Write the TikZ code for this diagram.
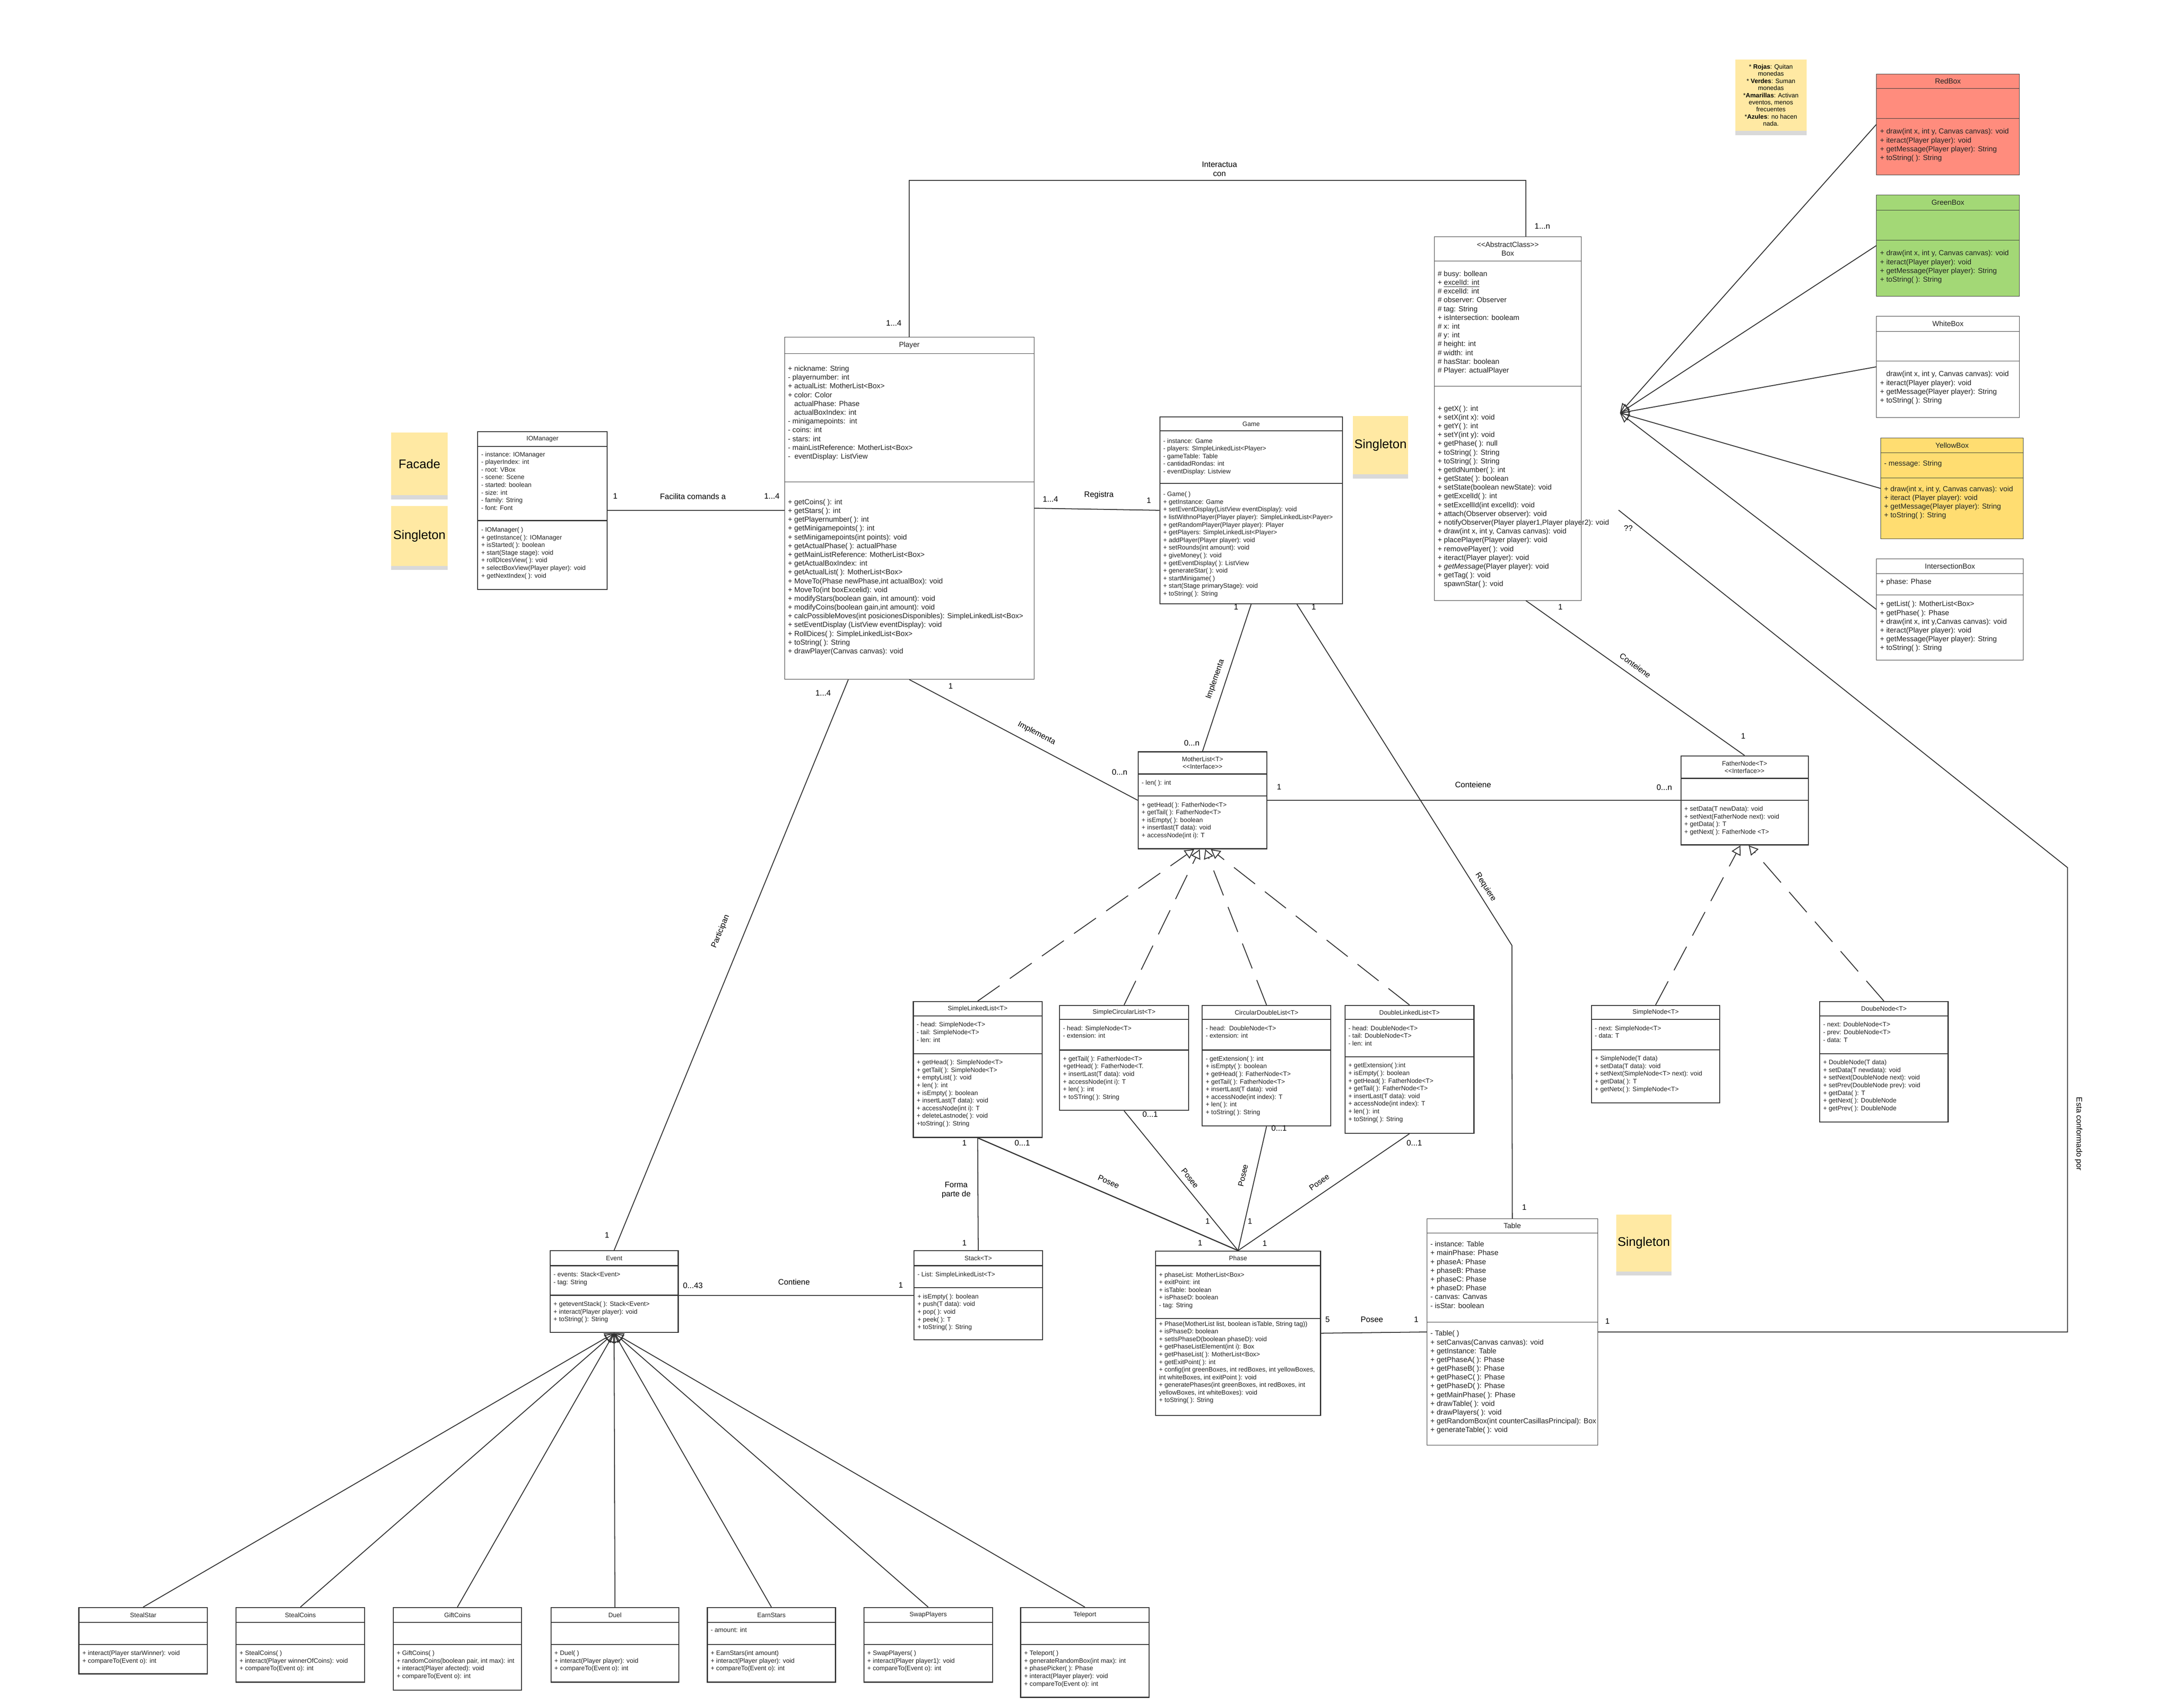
\documentclass[tikz,border=0pt]{standalone}
\usepackage{fontspec}
\setmainfont{Liberation Sans}
\usetikzlibrary{shapes.multipart, arrows.meta, shadows}
\newlength\un \setlength\un{0.3885mm}
\definecolor{liniaFosca}{RGB}{51,51,51}
\definecolor{textFosc}{RGB}{34,34,34}
\definecolor{vermellCaixa}{RGB}{255,140,125}
\definecolor{verdCaixa}{RGB}{163,216,118}
\definecolor{grocCaixa}{RGB}{255,221,113}
\definecolor{grocNota}{RGB}{255,233,163}
% capcalera i seccions de les classes
\newcommand{\titol}[3]{\parbox[c][#2\un][c]{#1\un}{\centering #3}}
\newcommand{\seccio}[4]{\parbox[c][#2\un][t]{#1\un}{\vspace*{#3\un}\begin{tabular}{@{\hspace{2.5\un}}l@{}}#4\end{tabular}}}
\newcommand{\llt}{<\kern0pt<}
\newcommand{\ggt}{>\kern0pt>}
\newcommand{\ind}{\phantom{+ }}
\tikzset{
  classe/.style={rectangle split, rectangle split parts=3, draw=liniaFosca, line width=0.35pt, inner sep=0pt, anchor=north west, text=textFosc, font=\fontsize{5.8}{7}\selectfont},
  classeGruixuda/.style={classe, line width=0.8pt, font=\fontsize{5.1}{6.1}\selectfont},
  notaGroga/.style={rectangle, fill=grocNota, inner sep=0pt, anchor=north west, align=center, drop shadow={shadow xshift=0pt, shadow yshift=-1.2mm, opacity=.3}},
  etiqueta/.style={inner sep=0pt, align=center, text=black, font=\fontsize{6.3}{7.3}\selectfont},
  conn/.style={draw=liniaFosca, line width=0.7pt},
  herencia/.style={conn, -{Triangle[open, length=2.6mm, width=2.8mm]}},
  realitza/.style={herencia, dash pattern=on 7.5mm off 3.5mm},
}
\begin{document}
\begin{tikzpicture}[x=\un, y=-\un]
\useasboundingbox (0,0) rectangle (1568.1,1232.2);

% Notes
\node (facade) [notaGroga, minimum width=41\un, minimum height=45\un, font=\fontsize{10}{12}\selectfont] at (282,312) {Facade};
\node (singleton1) [notaGroga, minimum width=41\un, minimum height=43\un, font=\fontsize{10}{12}\selectfont] at (282,365) {Singleton};
\node (singleton2) [notaGroga, minimum width=40\un, minimum height=42\un, font=\fontsize{10}{12}\selectfont] at (976,300) {Singleton};
\node (singleton3) [notaGroga, minimum width=40\un, minimum height=41\un, font=\fontsize{10}{12}\selectfont] at (1166,876) {Singleton};
\node (colors) [notaGroga, minimum width=51.5\un, minimum height=51.5\un, font=\fontsize{5}{5.7}\selectfont] at (1252,42.7) {* \textbf{Rojas}: Quitan\\monedas\\* \textbf{Verdes}: Suman\\monedas\\*\textbf{Amarillas}: Activan\\eventos, menos\\frecuentes\\*\textbf{Azules}: no hacen\\nada.};

% Classes principals
\node (player) [classe] at (566,243) {\titol{180}{11.6}{Player}\nodepart{two}\seccio{180}{92.4}{8}{+ nickname: String\\- playernumber: int\\+ actualList: MotherList<Box>\\+ color: Color\\\ind actualPhase: Phase\\\ind actualBoxIndex: int\\- minigamepoints:\ \ int\\- coins: int\\- stars: int\\- mainListReference: MotherList<Box>\\-\ \ eventDisplay: ListView}\nodepart{three}\seccio{180}{142}{11.5}{+ getCoins( ): int\\+ getStars( ): int\\+ getPlayernumber( ): int\\+ getMinigamepoints( ): int\\+ setMinigamepoints(int points): void\\+ getActualPhase( ): actualPhase\\+ getMainListReference: MotherList<Box>\\+ getActualBoxIndex: int\\+ getActualList( ): MotherList<Box>\\+ MoveTo(Phase newPhase,int actualBox): void\\+ MoveTo(int boxExcelid): void\\+ modifyStars(boolean gain, int amount): void\\+ modifyCoins(boolean gain,int amount): void\\+ calcPossibleMoves(int posicionesDisponibles): SimpleLinkedList<Box>\\+ setEventDisplay (ListView eventDisplay): void\\+ RollDices( ): SimpleLinkedList<Box>\\+ toString( ): String\\+ drawPlayer(Canvas canvas): void}};

\node (iomanager) [classeGruixuda] at (344.4,311) {\titol{93.4}{10}{IOManager}\nodepart{two}\seccio{93.4}{52.7}{3}{- instance: IOManager\\- playerIndex: int\\- root: VBox\\- scene: Scene\\- started: boolean\\- size: int\\- family: String\\- font: Font}\nodepart{three}\seccio{93.4}{49}{4}{- IOManager( )\\+ getInstance( ): IOManager\\+ isStarted( ): boolean\\+ start(Stage stage): void\\+ rollDIcesView( ): void\\+ selectBoxView(Player player): void\\+ getNextIndex( ): void}};

\node (game) [classeGruixuda] at (836.6,300.4) {\titol{131.8}{9.3}{Game}\nodepart{two}\seccio{131.8}{37.3}{4.6}{- instance: Game\\- players: SImpleLinkedList<Player>\\- gameTable: Table\\- cantidadRondas: int\\- eventDisplay: Listview}\nodepart{three}\seccio{131.8}{86}{5}{- Game( )\\+ getInstance: Game\\+ setEventDisplay(ListView eventDisplay): void\\+ listWithnoPlayer(Player player): SimpleLinkedList<Payer>\\+ getRandomPlayer(Player player): Player\\+ getPlayers: SimpleLinkedList<Player>\\+ addPlayer(Player player): void\\+ setRounds(int amount): void\\+ giveMoney( ): void\\+ getEventDisplay( ): ListView\\+ generateStar( ): void\\+ startMinigame( )\\+ start(Stage primaryStage): void\\+ toString( ): String}};

\node (box) [classe] at (1034.8,170.7) {\titol{106.2}{17}{\llt AbstractClass\ggt\\Box}\nodepart{two}\seccio{106.2}{90.3}{6.5}{\# busy: bollean\\+ \underline{excelId: int}\\\# excelId: int\\\# observer: Observer\\\# tag: String\\+ isIntersection: booleam\\\# x: int\\\# y: int\\\# height: int\\\# width: int\\\# hasStar: boolean\\\# Player: actualPlayer}\nodepart{three}\seccio{106.2}{154}{13}{+ getX( ): int\\+ setX(int x): void\\+ getY( ): int\\+ setY(int y): void\\+ getPhase( ): null\\+ toString( ): String\\+ toString( ): String\\+ getIdNumber( ): int\\+ getState( ): boolean\\+ setState(boolean newState): void\\+ getExcelId( ): int\\+ setExcellId(int excelId): void\\+ attach(Observer observer): void\\+ notifyObserver(Player player1,Player player2): void\\+ draw(int x, int y, Canvas canvas): void\\+ placePlayer(Player player): void\\+ removePlayer( ): void\\+ iteract(Player player): void\\+ \textit{getMessage}(Player player): void\\+ getTag( ): void\\\ind spawnStar( ): void}};

% Caselles
\node (redbox) [classe, fill=vermellCaixa] at (1354,53.3) {\titol{103}{10}{RedBox}\nodepart{two}\seccio{103}{21.4}{0}{}\nodepart{three}\seccio{103}{40.3}{6.5}{+ draw(int x, int y, Canvas canvas): void\\+ iteract(Player player): void\\+ getMessage(Player player): String\\+ toString( ): String}};
\node (greenbox) [classe, fill=verdCaixa] at (1354,140.5) {\titol{103}{10.5}{GreenBox}\nodepart{two}\seccio{103}{21.5}{0}{}\nodepart{three}\seccio{103}{40.1}{6.5}{+ draw(int x, int y, Canvas canvas): void\\+ iteract(Player player): void\\+ getMessage(Player player): String\\+ toString( ): String}};
\node (whitebox) [classe] at (1354,228) {\titol{103}{10.6}{WhiteBox}\nodepart{two}\seccio{103}{21.1}{0}{}\nodepart{three}\seccio{103}{40.3}{6.5}{\ind draw(int x, int y, Canvas canvas): void\\+ iteract(Player player): void\\+ getMessage(Player player): String\\+ toString( ): String}};
\node (yellowbox) [classe, fill=grocCaixa] at (1357,315.8) {\titol{103}{10.2}{YellowBox}\nodepart{two}\seccio{103}{18}{5}{- message: String}\nodepart{three}\seccio{103}{43.6}{5}{+ draw(int x, int y, Canvas canvas): void\\+ iteract (Player player): void\\+ getMessage(Player player): String\\+ toString( ): String}};
\node (interbox) [classe] at (1354,403) {\titol{106}{10.4}{IntersectionBox}\nodepart{two}\seccio{106}{14.9}{3}{+ phase: Phase}\nodepart{three}\seccio{106}{46.7}{3.8}{+ getList( ): MotherList<Box>\\+ getPhase( ): Phase\\+ draw(int x, int y,Canvas canvas): void\\+ iteract(Player player): void\\+ getMessage(Player player): String\\+ toString( ): String}};

% Interficies
\node (motherlist) [classeGruixuda] at (821,542) {\titol{92.8}{15.3}{MotherList<T>\\\llt Interface\ggt}\nodepart{two}\seccio{92.8}{15.2}{3.6}{- len( ): int}\nodepart{three}\seccio{92.8}{37.3}{3.6}{+ getHead( ): FatherNode<T>\\+ getTail( ): FatherNode<T>\\+ isEmpty( ): boolean\\+ insertlast(T data): void\\+ accessNode(int i): T}};
\node (fathernode) [classeGruixuda] at (1212.6,545) {\titol{91.9}{15.4}{FatherNode<T>\\\llt Interface\ggt}\nodepart{two}\seccio{91.9}{15.1}{0}{}\nodepart{three}\seccio{91.9}{31.5}{3.6}{+ setData(T newData): void\\+ setNext(FatherNode next): void\\+ getData( ): T\\+ getNext( ): FatherNode <T>}};

% Llistes i nodes
\node (simplelinked) [classeGruixuda] at (658.7,722.2) {\titol{92.9}{9.6}{SimpleLinkedList<T>}\nodepart{two}\seccio{92.9}{26.5}{3.6}{- head: SimpleNode<T>\\- tail: SimpleNode<T>\\- len: int}\nodepart{three}\seccio{92.9}{59.7}{3.6}{+ getHead( ): SimpleNode<T>\\+ getTail( ): SimpleNode<T>\\+ emptyList( ): void\\+ len( ): int\\+ isEmpty( ): boolean\\+ insertLast(T data): void\\+ accessNode(int i): T\\+ deleteLastnode( ): void\\+toString( ): String}};
\node (simplecircular) [classeGruixuda] at (764.2,725) {\titol{93.2}{9.4}{SimpleCircularList<T>}\nodepart{two}\seccio{93.2}{21.3}{3.6}{- head: SimpleNode<T>\\- extension: int}\nodepart{three}\seccio{93.2}{42.8}{3.6}{+ getTail( ): FatherNode<T>\\+getHead( ): FatherNode<T.\\+ insertLast(T data): void\\+ accessNode(int i): T\\+ len( ): int\\+ toSTring( ): String}};
\node (circulardouble) [classeGruixuda] at (867.2,725) {\titol{92.8}{9.4}{CircularDoubleList<T>}\nodepart{two}\seccio{92.8}{21.3}{3.6}{- head:\ \ DoubleNode<T>\\- extension: int}\nodepart{three}\seccio{92.8}{54.1}{3.6}{- getExtension( ): int\\+ isEmpty( ): boolean\\+ getHead( ): FatherNode<T>\\+ getTail( ): FatherNode<T>\\+ insertLast(T data): void\\+ accessNode(int index): T\\+ len( ): int\\+ toString( ): String}};
\node (doublelinked) [classeGruixuda] at (970.2,725) {\titol{93.1}{9.4}{DoubleLinkedList<T>}\nodepart{two}\seccio{93.1}{26.2}{3.6}{- head: DoubleNode<T>\\- tail: DoubleNode<T>\\- len: int}\nodepart{three}\seccio{93.1}{54.4}{3.6}{+ getExtension( ):int\\+ isEmpty( ): boolean\\+ getHead( ): FatherNode<T>\\+ getTail( ): FatherNode<T>\\+ insertLast(T data): void\\+ accessNode(int index): T\\+ len( ): int\\+ toString( ): String}};
\node (simplenode) [classeGruixuda] at (1148,725) {\titol{92.7}{9.4}{SimpleNode<T>}\nodepart{two}\seccio{92.7}{21.1}{3.6}{- next: SimpleNode<T>\\- data: T}\nodepart{three}\seccio{92.7}{37.5}{3.6}{+ SimpleNode(T data)\\+ setData(T data): void\\+ setNext(SimpleNode<T> next): void\\+ getData( ): T\\+ getNetx( ): SimpleNode<T>}};
\node (doublenode) [classeGruixuda] at (1312.8,722.2) {\titol{92.6}{9.6}{DoubeNode<T>}\nodepart{two}\seccio{92.6}{26.5}{3.6}{- next: DoubleNode<T>\\- prev: DoubleNode<T>\\- data: T}\nodepart{three}\seccio{92.6}{48.7}{3.6}{+ DoubleNode(T data)\\+ setData(T newdata): void\\+ setNext(DoubleNode next): void\\+ setPrev(DoubleNode prev): void\\+ getData( ): T\\+ getNext( ): DoubleNode\\+ getPrev( ): DoubleNode}};

% Event, Stack, Phase, Table
\node (event) [classeGruixuda] at (396.6,902) {\titol{92.4}{10}{Event}\nodepart{two}\seccio{92.4}{20.6}{3.6}{- events: Stack<Event>\\- tag: String}\nodepart{three}\seccio{92.4}{26.2}{3.6}{+ geteventStack( ): Stack<Event>\\+ interact(Player player): void\\+ toString( ): String}};
\node (stack) [classeGruixuda] at (659.2,902) {\titol{92.7}{10}{Stack<T>}\nodepart{two}\seccio{92.7}{15.2}{3.6}{- List: SimpleLinkedList<T>}\nodepart{three}\seccio{92.7}{36.8}{3.6}{+ isEmpty( ): boolean\\+ push(T data): void\\+ pop( ): void\\+ peek( ): T\\+ toString( ): String}};
\node (phase) [classeGruixuda] at (833.5,902.2) {\titol{119.1}{9.8}{Phase}\nodepart{two}\seccio{119.1}{37.3}{3.8}{+ phaseList: MotherList<Box>\\+ exitPoint: int\\+ isTable: boolean\\+ isPhaseD: boolean\\- tag: String}\nodepart{three}\seccio{119.1}{69.2}{1.2}{+ Phase(MotherList list, boolean isTable, String tag))\\+ isPhaseD: boolean\\+ setIsPhaseD(boolean phaseD): void\\+ getPhaseListElement(int i): Box\\+ getPhaseList( ): MotherList<Box>\\+ getExitPoint( ): int\\+ config(int greenBoxes, int redBoxes, int yellowBoxes,\\int whiteBoxes, int exitPoint ): void\\+ generatePhases(int greenBoxes, int redBoxes, int\\yellowBoxes, int whiteBoxes): void\\+ toString( ): String}};
\node (table) [classe] at (1029.6,879) {\titol{123.1}{10}{Table}\nodepart{two}\seccio{123.1}{64}{5.3}{- instance: Table\\+ mainPhase: Phase\\+ phaseA: Phase\\+ phaseB: Phase\\+ phaseC: Phase\\+ phaseD: Phase\\- canvas: Canvas\\- isStar: boolean}\nodepart{three}\seccio{123.1}{88.6}{5.3}{- Table( )\\+ setCanvas(Canvas canvas): void\\+ getInstance: Table\\+ getPhaseA( ): Phase\\+ getPhaseB( ): Phase\\+ getPhaseC( ): Phase\\+ getPhaseD( ): Phase\\+ getMainPhase( ): Phase\\+ drawTable( ): void\\+ drawPlayers( ): void\\+ getRandomBox(int counterCasillasPrincipal): Box\\+ generateTable( ): void}};

% Esdeveniments
\node (stealstar) [classeGruixuda] at (56.6,1159.4) {\titol{92.7}{9.9}{StealStar}\nodepart{two}\seccio{92.7}{15.2}{0}{}\nodepart{three}\seccio{92.7}{20.5}{3.6}{+ interact(Player starWinner): void\\+ compareTo(Event o): int}};
\node (stealcoins) [classeGruixuda] at (170,1159.4) {\titol{92.8}{9.9}{StealCoins}\nodepart{two}\seccio{92.8}{15.2}{0}{}\nodepart{three}\seccio{92.8}{26.5}{3.6}{+ StealCoins( )\\+ interact(Player winnerOfCoins): void\\+ compareTo(Event o): int}};
\node (giftcoins) [classeGruixuda] at (283.4,1159.4) {\titol{92.6}{9.9}{GiftCoins}\nodepart{two}\seccio{92.6}{15.2}{0}{}\nodepart{three}\seccio{92.6}{32.2}{3.6}{+ GiftCoins( )\\+ randomCoins(boolean pair, int max): int\\+ interact(Player afected): void\\+ compareTo(Event o): int}};
\node (duel) [classeGruixuda] at (397.2,1159.4) {\titol{92.4}{9.9}{Duel}\nodepart{two}\seccio{92.4}{15.2}{0}{}\nodepart{three}\seccio{92.4}{26.5}{3.6}{+ Duel( )\\+ interact(Player player): void\\+ compareTo(Event o): int}};
\node (earnstars) [classeGruixuda] at (510,1159.4) {\titol{92.6}{9.9}{EarnStars}\nodepart{two}\seccio{92.6}{15.2}{3}{- amount: int}\nodepart{three}\seccio{92.6}{26.5}{3.6}{+ EarnStars(int amount)\\+ interact(Player player): void\\+ compareTo(Event o): int}};
\node (swapplayers) [classeGruixuda] at (623,1159.4) {\titol{92.9}{9.9}{SwapPlayers}\nodepart{two}\seccio{92.9}{15.2}{0}{}\nodepart{three}\seccio{92.9}{26.5}{3.6}{+ SwapPlayers( )\\+ interact(Player player1): void\\+ compareTo(Event o): int}};
\node (teleport) [classeGruixuda] at (736.2,1159.4) {\titol{92.6}{9.9}{Teleport}\nodepart{two}\seccio{92.6}{15.2}{0}{}\nodepart{three}\seccio{92.6}{37.5}{3.6}{+ Teleport( )\\+ generateRandomBox(int max): int\\+ phasePicker( ): Phase\\+ interact(Player player): void\\+ compareTo(Event o): int}};

% Punts de pas
\coordinate (cGen) at (1169,298);
\coordinate (cReq) at (1091,682);
\coordinate (cConf) at (1168,368);

% Relacions
\draw [conn] (player.north) -- ++(0,-113) -| ([xshift=13\un]box.north);
\draw [conn] (iomanager.east) -- (player.west |- iomanager.east);
\draw [conn] (player.east) -- (game.west);
\draw [conn] (player.south) -- (motherlist.west);
\draw [conn] (game.south) -- (motherlist.north);
\draw [conn] ([xshift=33\un]game.south) -- (cReq) -- (table.north);
\draw [conn] ([xshift=13\un]box.south) -- (fathernode.north);
\draw [conn] (motherlist.east) -- (fathernode.west |- motherlist.east);
\draw [conn] (table.east) -- ++(339,0) -- ++(0,-335) -- (cConf);
\draw [conn] ([xshift=-44\un]player.south) -- (event.north);
\draw [conn] (event.east |- stack.west) -- (stack.west);
\draw [conn] (simplelinked.south) -- (stack.north);
\draw [conn, line width=0.9pt] (simplelinked.south) -- (phase.north);
\draw [conn] (simplecircular.south) -- (phase.north);
\draw [conn] (circulardouble.south) -- (phase.north);
\draw [conn] (doublelinked.south) -- (phase.north);
\draw [conn] (phase.east) -- (table.west);
\foreach \caixa in {redbox, greenbox, whitebox, yellowbox, interbox}
  \draw [herencia] (\caixa.west) -- (cGen);
\foreach \llista/\dx in {simplelinked/-6, simplecircular/-2, circulardouble/2, doublelinked/6}
  \draw [realitza] (\llista.north) -- ([xshift=\dx\un]motherlist.south);
\draw [realitza] (simplenode.north) -- ([xshift=-3\un]fathernode.south);
\draw [realitza] (doublenode.north) -- ([xshift=3\un]fathernode.south);
\foreach \esdev in {stealstar, stealcoins, giftcoins, duel, earnstars, swapplayers, teleport}
  \draw [herencia] (\esdev.north) -- (event.south);

% Etiquetes
\node (lInteractua) [etiqueta] at (880,122) {Interactua\\con};
\node (m1) [etiqueta] at (645,233) {1...4};
\node (m2) [etiqueta] at (1113,163) {1...n};
\node (m3) [etiqueta] at (444,358) {1};
\node (lFacilita) [etiqueta] at (500,358) {Facilita comands a};
\node (m4) [etiqueta] at (557,358) {1...4};
\node (m5) [etiqueta] at (758,360) {1...4};
\node (lRegistra) [etiqueta] at (793,357) {Registra};
\node (m6) [etiqueta] at (829,361) {1};
\node (m7) [etiqueta] at (686,495) {1};
\node (lImpl1) [etiqueta, rotate=-27.5] at (748,529) {Implementa};
\node (m8) [etiqueta] at (808,557) {0...n};
\node (m9) [etiqueta] at (892,438) {1};
\node (lImpl2) [etiqueta, rotate=70.8] at (877,490) {Implementa};
\node (m10) [etiqueta] at (860,536) {0...n};
\node (m11) [etiqueta] at (948,438) {1};
\node (lRequiere) [etiqueta, rotate=-58] at (1072,640) {Requiere};
\node (m12) [etiqueta] at (1100,871) {1};
\node (m13) [etiqueta] at (1126,438) {1};
\node (lConteiene1) [etiqueta, rotate=-35.7] at (1180,480) {Conteiene};
\node (m14) [etiqueta] at (1258,531) {1};
\node (m15) [etiqueta] at (923,567.6) {1};
\node (lConteiene2) [etiqueta] at (1063,566) {Conteiene};
\node (m16) [etiqueta] at (1201,568) {0...n};
\node (m17) [etiqueta] at (1175,381) {??};
\node (m18) [etiqueta] at (1160,953) {1};
\node (lConformat) [etiqueta, rotate=-90] at (1500,818) {Esta conformado por};
\node (m19) [etiqueta] at (594,500) {1...4};
\node (lParticipan) [etiqueta, rotate=67.4] at (520,672) {Participan};
\node (m20) [etiqueta] at (438,891) {1};
\node (m21) [etiqueta] at (500,927.5) {0...43};
\node (lContiene) [etiqueta] at (573,924.8) {Contiene};
\node (m22) [etiqueta] at (650,927) {1};
\node (m23) [etiqueta] at (696,824.7) {1};
\node (lForma) [etiqueta] at (690,858.5) {Forma\\parte de};
\node (m24) [etiqueta] at (696,896.8) {1};
\node (m25) [etiqueta] at (737.7,824.7) {0...1};
\node (lPosee1) [etiqueta, rotate=-23.8] at (800,852.5) {Posee};
\node (m26) [etiqueta] at (866,896.8) {1};
\node (m27) [etiqueta] at (830,804) {0...1};
\node (lPosee2) [etiqueta, rotate=-51.6] at (858.7,850) {Posee};
\node (m28) [etiqueta] at (871.4,881) {1};
\node (m29) [etiqueta] at (923,814) {0...1};
\node (lPosee3) [etiqueta, rotate=77.4] at (897,848) {Posee};
\node (m30) [etiqueta] at (902,881) {1};
\node (m31) [etiqueta] at (1020.6,824.7) {0...1};
\node (lPosee4) [etiqueta, rotate=35] at (952,853) {Posee};
\node (m32) [etiqueta] at (912.7,897) {1};
\node (m33) [etiqueta] at (958,952) {5};
\node (lPosee5) [etiqueta] at (990,952) {Posee};
\node (m34) [etiqueta] at (1022,952) {1};

\end{tikzpicture}
\end{document}
